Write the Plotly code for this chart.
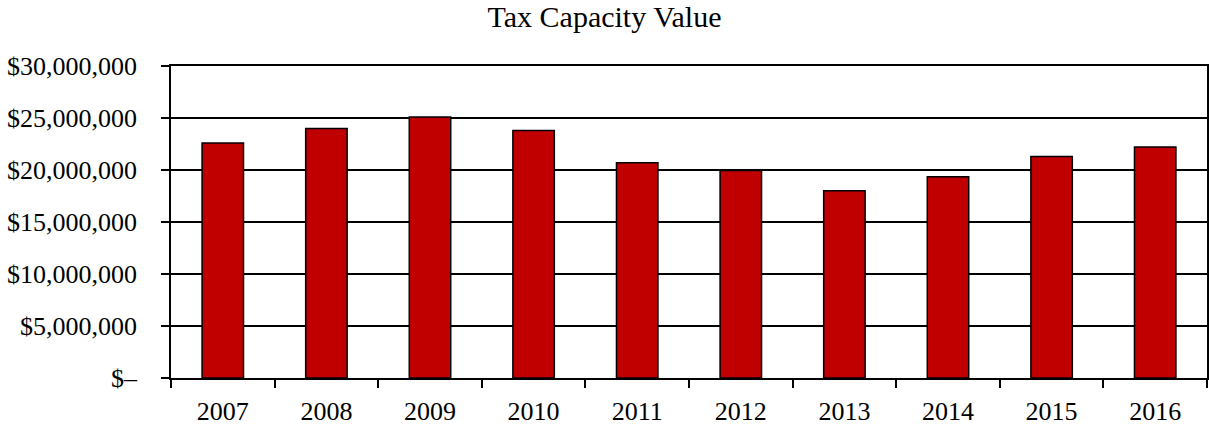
import plotly.graph_objects as go

years = ["2007", "2008", "2009", "2010", "2011", "2012", "2013", "2014", "2015", "2016"]
tax_capacity = [22600000, 24000000, 25100000, 23800000, 20700000, 19950000, 18000000, 19350000, 21300000, 22200000]
y_tick_vals = [0, 5000000, 10000000, 15000000, 20000000, 25000000, 30000000]
y_tick_text = ["$\u2013", "$5,000,000", "$10,000,000", "$15,000,000", "$20,000,000", "$25,000,000", "$30,000,000"]

FONT = "Liberation Serif, Times New Roman, serif"

fig = go.Figure(
    go.Bar(
        x=years,
        y=tax_capacity,
        marker=dict(color="#C00000", line=dict(color="black", width=1.5)),
    )
)

fig.update_layout(
    width=1209,
    height=426,
    autosize=False,
    margin=dict(l=171, r=2, t=66, b=48),
    paper_bgcolor="white",
    plot_bgcolor="white",
    bargap=0.6,
    showlegend=False,
    font=dict(family=FONT, color="black", size=26),
    title=dict(
        text="Tax Capacity Value",
        x=0.5,
        xref="container",
        xanchor="center",
        y=1 - 16 / 426,
        yref="container",
        yanchor="middle",
        font=dict(family=FONT, size=30, color="black"),
    ),
)

fig.update_xaxes(
    type="category",
    automargin=False,
    showline=True,
    linecolor="black",
    linewidth=1.5,
    mirror=True,
    ticks="outside",
    tickson="boundaries",
    ticklen=8,
    tickwidth=1.5,
    tickcolor="black",
    showgrid=False,
    ticklabelstandoff=9,
    tickfont=dict(family=FONT, size=26, color="black"),
)

fig.update_yaxes(
    range=[0, 30000000],
    automargin=False,
    tickvals=y_tick_vals,
    ticktext=y_tick_text,
    showline=True,
    linecolor="black",
    linewidth=1.5,
    mirror=True,
    ticks="outside",
    ticklen=8,
    tickwidth=1.5,
    tickcolor="black",
    showgrid=True,
    gridcolor="black",
    gridwidth=1.5,
    zeroline=False,
    ticklabelstandoff=19,
    tickfont=dict(family=FONT, size=26, color="black"),
)

fig.write_html(
    "out.html",
    config={"displayModeBar": False},
    post_script="document.body.style.margin='0';document.body.style.padding='0';",
)
